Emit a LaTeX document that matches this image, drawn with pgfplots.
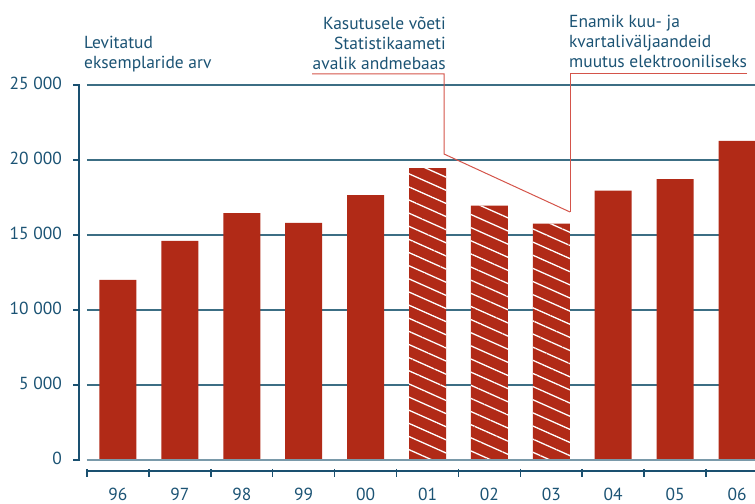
\documentclass[border=0pt]{standalone}
\usepackage{fontspec}
\setmainfont{PT Sans}
\usepackage{pgfplots}
\pgfplotsset{compat=1.18}
\usetikzlibrary{patterns.meta}
\definecolor{barred}{HTML}{B12A17}
\definecolor{txtblue}{HTML}{1B5374}
\definecolor{gridblue}{HTML}{3C6E84}
\definecolor{zeroblue}{HTML}{7A9AAA}
\definecolor{axblue}{HTML}{1A5070}
\definecolor{annred}{HTML}{D4544A}

\begin{document}
\begin{tikzpicture}[font=\fontsize{17.5}{21}\selectfont]
\begin{axis}[
  scale only axis, width=668bp, height=375bp,
  xmin=-0.5, xmax=10.29, ymin=0, ymax=25000,
  ybar, bar width=37bp, bar shift=0pt,
  axis line style={draw=none},
  major tick length=0pt,
  xtick={0,...,10},
  xticklabels={96,97,98,99,00,01,02,03,04,05,06},
  ytick={0,5000,10000,15000,20000,25000},
  yticklabels={0,5 000,10 000,15 000,20 000,25 000},
  ymajorgrids, grid style={gridblue, line width=1.1bp},
  clip=false,
  xticklabel style={anchor=base, yshift=-40.5bp, inner sep=0pt, text=txtblue},
  yticklabel style={anchor=east, xshift=-25bp, yshift=1.5bp, inner sep=0pt, text=txtblue},
  scaled y ticks=false,
]
% printed editions
\addplot[fill=barred, draw=none] coordinates {
  (0,12000) (1,14600) (2,16450) (3,15800) (4,17650)
  (8,17950) (9,18730) (10,21270)
};
% years after the public database was opened
\addplot[fill=barred, draw=none,
  postaction={pattern color=white, pattern={Lines[angle=-24,distance=12bp,line width=1.3bp]}}]
  coordinates {
  (5,19450) (6,16950) (7,15750)
};
\draw[zeroblue, line width=1.2bp] (rel axis cs:0,0) -- (rel axis cs:1,0);
\end{axis}

\begin{scope}[x=1bp, y=1bp]
  % y axis
  \draw[axblue, line width=2bp] (-8,-0.5) -- (-8,375.5);
  \foreach \y in {0,75,...,375} \draw[axblue, line width=1.5bp] (-7,\y) -- (-14,\y);
  % x axis
  \draw[axblue, line width=2.7bp] (0,-11) -- (668,-11);
  \foreach \i in {0,...,10} \draw[axblue, line width=1.5bp] (\i*61.9,-9) -- (\i*61.9,-17);

  % annotations
  \node[anchor=base west, inner sep=0pt, text=txtblue] at (-3,411) {Levitatud};
  \node[anchor=base west, inner sep=0pt, text=txtblue] at (-3,391) {eksemplaride arv};

  \node[anchor=base east, inner sep=0pt, text=txtblue] at (359,430) {Kasutusele võeti};
  \node[anchor=base east, inner sep=0pt, text=txtblue] at (359,410) {Statistikaameti};
  \node[anchor=base east, inner sep=0pt, text=txtblue] at (359,390) {avalik andmebaas};

  \node[anchor=base west, inner sep=0pt, text=txtblue] at (482,432) {Enamik kuu- ja};
  \node[anchor=base west, inner sep=0pt, text=txtblue] at (482,412) {kvartaliväljaandeid};
  \node[anchor=base west, inner sep=0pt, text=txtblue] at (482,392) {muutus elektrooniliseks};

  \draw[annred, line width=1bp] (225,386) -- (357,386) -- (357,306) -- (483,248);
  \draw[annred, line width=1bp] (660,386) -- (483,386) -- (483,248);

  \pgfresetboundingbox
  \path[use as bounding box] (-87,-44) rectangle (668,460);
\end{scope}
\end{tikzpicture}
\end{document}
